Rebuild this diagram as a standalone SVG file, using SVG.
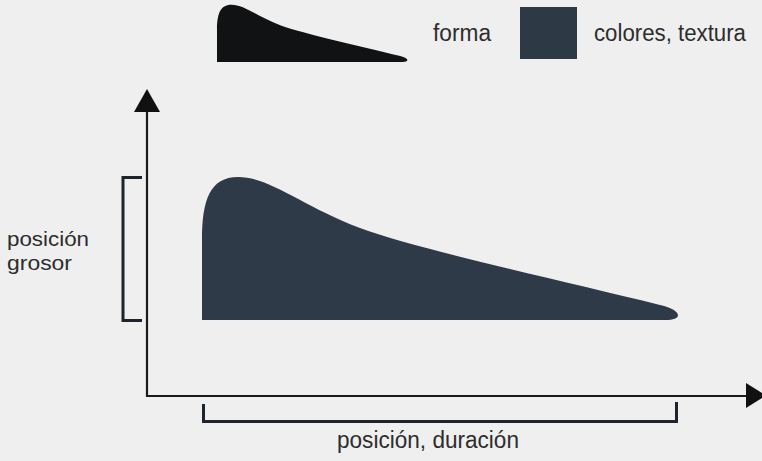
<svg xmlns="http://www.w3.org/2000/svg" width="762" height="461" viewBox="0 0 762 461">
<style>
.t{font-family:"Liberation Sans",Arial,sans-serif;font-size:23px;fill:#2d2d2d}
.s{font-size:21px}
.ax{stroke:#1a1a1a;stroke-width:2.2;fill:none}
.br{stroke:#1e242b;stroke-width:3;fill:none}
</style>
<defs>
<path id="shape" d="M202,320 L202,240 C202,200 210,177 238,177 C270,177 300,205 360,228 C420,250 560,280 660,305 C682,310 684,320 665,320 Z"/>
</defs>
<rect width="762" height="461" fill="#efefef"/>
<g id="legend-forma">
<use href="#shape" fill="#111214" transform="translate(136.2,-66) scale(0.4)"/>
<text class="t" x="433" y="41" textLength="58" lengthAdjust="spacingAndGlyphs">forma</text>
</g>
<g id="legend-colores">
<rect x="520" y="7" width="57" height="52" fill="#2e3946"/>
<text class="t" x="594" y="41" textLength="152" lengthAdjust="spacingAndGlyphs">colores, textura</text>
</g>
<g id="main-shape">
<use href="#shape" fill="#2f3a48"/>
</g>
<g id="connectors">
<path class="ax" d="M147,397 L147,108"/>
<polygon points="134,112 160,112 147,89" fill="#111"/>
<path class="ax" d="M146,396 L750,396"/>
<polygon points="746,383 746,408 766,395.5" fill="#111"/>
<path class="br" d="M142,177.5 L123,177.5 L123,320.5 L142,320.5"/>
<path class="br" d="M203.5,404 L203.5,421.5 L676.5,421.5 L676.5,402"/>
</g>
<g id="label-vertical">
<text class="t s" x="7" y="246" textLength="82" lengthAdjust="spacingAndGlyphs">posición</text>
<text class="t s" x="7" y="270" textLength="65" lengthAdjust="spacingAndGlyphs">grosor</text>
</g>
<g id="label-horizontal">
<text class="t" x="337" y="448" textLength="182" lengthAdjust="spacingAndGlyphs">posición, duración</text>
</g>
</svg>
